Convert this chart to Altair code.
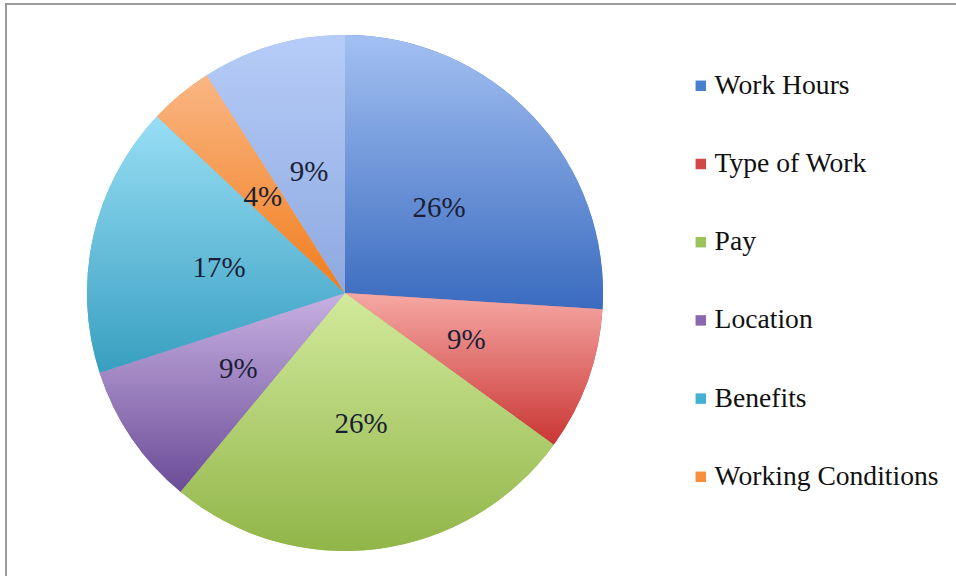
import altair as alt
import pandas as pd

categories = ["Work Hours", "Type of Work", "Pay", "Location", "Benefits",
              "Working Conditions", "Other"]
values = [26, 9, 26, 9, 17, 4, 9]
labels = ["26%", "9%", "26%", "9%", "17%", "4%", "9%"]
legend_colors = ["#4a7fcf", "#d04848", "#9bc35a", "#8a68b0", "#44b0d2", "#f6903e", "#a6bff0"]
top_colors = ["#a3c0f2", "#f6a8a4", "#d2ea9c", "#c7b0e2", "#98def5", "#fab684", "#b6ccf8"]
bottom_colors = ["#3a6bbf", "#c93634", "#91b548", "#6b4c97", "#389fc0", "#f17d1c", "#8ea9e0"]

df = pd.DataFrame({"category": categories, "value": values, "label": labels,
                   "order": list(range(len(categories)))})

CX, CY, R = 345, 293, 258
theta_scale = alt.Scale(domain=[0, 100], range=[0, 6.283185307179586])

base = alt.Chart(df).transform_window(
    cum="sum(value)", sort=[alt.SortField("order")]
).transform_calculate(
    start="datum.cum - datum.value", mid="datum.cum - datum.value / 2"
)

legend_layer = base.mark_arc(outerRadius=R, strokeWidth=0).encode(
    theta=alt.Theta("start:Q", scale=theta_scale),
    theta2="cum:Q",
    x=alt.value(CX), y=alt.value(CY),
    color=alt.Color("category:N",
                    scale=alt.Scale(domain=categories, range=legend_colors),
                    legend=alt.Legend(values=categories[:6], title=None,
                                      orient="none", legendX=687, legendY=72,
                                      symbolType="square", symbolSize=110,
                                      symbolStrokeWidth=0,
                                      labelFont="Liberation Serif", labelFontSize=27.6,
                                      labelColor="#111111", labelOffset=0,
                                      labelLimit=400,
                                      rowPadding=49.2, padding=0)),
)

layers = [legend_layer]
for cat, c_top, c_bot in zip(categories, top_colors, bottom_colors):
    grad = {"gradient": "linear", "x1": 0, "y1": 0, "x2": 0, "y2": 1,
            "stops": [{"offset": 0, "color": c_top}, {"offset": 1, "color": c_bot}]}
    layers.append(
        base.transform_filter(alt.datum.category == cat).mark_arc(
            outerRadius=R, strokeWidth=0).encode(
            theta=alt.Theta("start:Q", scale=theta_scale),
            theta2="cum:Q",
            x=alt.value(CX), y=alt.value(CY),
            fill=alt.value(grad),
        )
    )

text_layer = base.mark_text(radius=129, font="Liberation Serif", fontSize=29, dy=3,
                            color="#1a1f36", align="center", baseline="middle").encode(
    theta=alt.Theta("mid:Q", scale=theta_scale),
    x=alt.value(CX), y=alt.value(CY),
    text="label:N",
)
layers.append(text_layer)

frame_df = pd.DataFrame({"f": [0]})
top_rule = alt.Chart(frame_df).mark_rule(color="#9a9a9a", strokeWidth=2).encode(
    x=alt.value(5), x2=alt.value(956), y=alt.value(4))
left_rule = alt.Chart(frame_df).mark_rule(color="#9a9a9a", strokeWidth=2).encode(
    x=alt.value(6), y=alt.value(4), y2=alt.value(576))
layers += [top_rule, left_rule]

chart = alt.layer(*layers).properties(
    width=956, height=576, padding=0, autosize=alt.AutoSizeParams(type="none"),
    background="white"
).configure_view(stroke=None)

chart.save("out.html", embed_options={"renderer": "svg", "actions": False})
